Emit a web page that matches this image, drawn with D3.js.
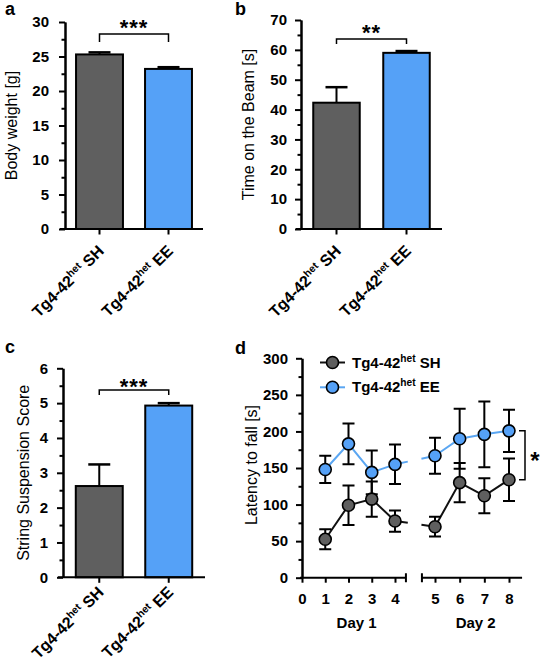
<!DOCTYPE html>
<html><head><meta charset="utf-8">
<script src="https://cdn.jsdelivr.net/npm/d3@7"></script>
<style>body{margin:0;background:#fff}svg{display:block}text{font-family:"Liberation Sans",Arial,sans-serif}</style>
</head><body>
<svg id="chart" width="544" height="665"></svg>
<script>
// ---------- DATA ----------
const groupBase = "Tg4-42", groupSup = "het";
const groups = ["SH", "EE"];
const bodyWeight = [25.3, 23.2];
const bodyWeightSem = [0.3, 0.25];
const bodyTicks = [0, 5, 10, 15, 20, 25, 30];
const beamTime = [42.3, 59.0];
const beamTimeSem = [5.2, 0.6];
const beamTicks = [0, 10, 20, 30, 40, 50, 60, 70];
const stringScore = [2.62, 4.93];
const stringScoreSem = [0.62, 0.07];
const stringTicks = [0, 1, 2, 3, 4, 5, 6];
const trialsDay1 = [1, 2, 3, 4];
const trialsDay2 = [5, 6, 7, 8];
const xTicksDay1 = [0, 1, 2, 3, 4];
const latencySH = [52.5, 99, 107.5, 77.5, 69.7, 130, 112, 134];
const latencySHSem = [13.7, 27, 24, 14.5, 13.5, 27, 24, 29];
const latencyEE = [148, 183, 144, 155, 166.7, 190, 196, 200.8];
const latencyEESem = [18.6, 28, 30, 27, 24.5, 41, 45, 29];
const latencyTicks = [0, 50, 100, 150, 200, 250, 300];
const dayLabels = ["Day 1", "Day 2"];

const colorSH = "#5f5f5f", colorEE = "#55a1f7", lineEE = "#5aa6f2";
const FONT = '"Liberation Sans", Arial, sans-serif';
const fmt = d3.format("d");
const svg = d3.select("#chart");

function groupLabel(text, cat, supSize) {
  text.append("tspan").text(groupBase);
  text.append("tspan").attr("font-size", supSize).attr("dy", -6).text(groupSup);
  text.append("tspan").attr("dy", 6).text("\u00A0" + cat);
}

function styleAxis(g) {
  g.selectAll("path,line").attr("stroke", "#000").attr("stroke-width", 2);
  g.selectAll("text").attr("font-family", FONT).attr("font-size", 15).attr("font-weight", "bold").attr("fill", "#000");
}

function barPanel(o) {
  const g = svg.append("g");
  const y = d3.scaleLinear().domain([o.ticks[0], o.ticks[o.ticks.length - 1]]).range(o.yRange);
  const x = d3.scaleBand().domain(groups).range([o.axisX, o.axisEnd]).paddingInner(o.pi).paddingOuter(o.po);
  const y0 = y(0);
  const cx = d => x(d) + x.bandwidth() / 2;
  g.selectAll("rect.bar").data(groups).join("rect")
    .attr("x", d => x(d)).attr("width", x.bandwidth())
    .attr("y", (d, i) => y(o.values[i])).attr("height", (d, i) => y0 - y(o.values[i]))
    .attr("fill", (d, i) => [colorSH, colorEE][i]).attr("stroke", "#000").attr("stroke-width", 2);
  g.selectAll("line.err").data(groups).join("line")
    .attr("x1", cx).attr("x2", cx)
    .attr("y1", (d, i) => y(o.values[i])).attr("y2", (d, i) => y(o.values[i] + o.sem[i]))
    .attr("stroke", "#000").attr("stroke-width", 2);
  g.selectAll("line.cap").data(groups).join("line")
    .attr("x1", d => cx(d) - 11).attr("x2", d => cx(d) + 11)
    .attr("y1", (d, i) => y(o.values[i] + o.sem[i])).attr("y2", (d, i) => y(o.values[i] + o.sem[i]))
    .attr("stroke", "#000").attr("stroke-width", 2.5);
  // y axis
  const minor = d3.range(o.ticks[0], o.ticks[o.ticks.length - 1], o.minorStep).filter(v => !o.ticks.includes(v));
  g.append("g").attr("transform", `translate(${o.axisX},0)`)
    .call(d3.axisLeft(y).tickValues(minor).tickSize(3.5).tickFormat("").tickSizeOuter(0)).call(styleAxis);
  g.append("g").attr("transform", `translate(${o.axisX},0)`)
    .call(d3.axisLeft(y).tickValues(o.ticks).tickFormat(fmt).tickSize(6).tickPadding(o.tickPad).tickSizeOuter(0)).call(styleAxis);
  // x axis
  g.append("line").attr("x1", o.axisX - 5).attr("x2", o.axisEnd).attr("y1", y0).attr("y2", y0)
    .attr("stroke", "#000").attr("stroke-width", 2);
  g.selectAll("line.xt").data(groups).join("line")
    .attr("x1", cx).attr("x2", cx).attr("y1", y0).attr("y2", y0 + 5.5)
    .attr("stroke", "#000").attr("stroke-width", 2);
  g.selectAll("text.xl").data(groups).join("text")
    .attr("transform", d => `translate(${cx(d) + 5.5},${y0 + o.labelDY}) rotate(-45)`)
    .attr("text-anchor", "end").attr("font-size", 16).attr("font-weight", "bold")
    .each(function (d) { groupLabel(d3.select(this), d, "0.65em"); });
  // bracket
  const bx1 = cx(groups[0]), bx2 = cx(groups[1]);
  g.append("path").attr("d", `M${bx1},${o.bracketY + o.leg}V${o.bracketY}H${bx2}V${o.bracketY + o.leg}`)
    .attr("fill", "none").attr("stroke", "#000").attr("stroke-width", 1.5);
  g.append("text").attr("x", (bx1 + bx2) / 2).attr("y", o.starY).attr("text-anchor", "middle")
    .attr("font-size", 22).attr("font-weight", "bold").attr("letter-spacing", 1).text(o.stars);
  // title
  const ym = (o.yRange[0] + o.yRange[1]) / 2;
  g.append("text").attr("transform", `translate(${o.titleX},${ym}) rotate(-90)`)
    .attr("text-anchor", "middle").attr("font-size", 16).text(o.title);
  g.append("text").attr("x", o.letter[1]).attr("y", o.letter[2]).attr("font-size", 18)
    .attr("font-weight", "bold").text(o.letter[0]);
}

barPanel({ ticks: bodyTicks, minorStep: 2.5, yRange: [229, 22], axisX: 65, axisEnd: 203, pi: 0.32, po: 0.16,
  values: bodyWeight, sem: bodyWeightSem, tickPad: 10, labelDY: 23, bracketY: 34, leg: 8, stars: "***", starY: 35,
  title: "Body weight [g]", titleX: 17, letter: ["a", 5, 15] });
barPanel({ ticks: beamTicks, minorStep: 5, yRange: [229, 20], axisX: 301, axisEnd: 442, pi: 0.336, po: 0.175,
  values: beamTime, sem: beamTimeSem, tickPad: 8, labelDY: 23, bracketY: 39, leg: 5, stars: "**", starY: 40,
  title: "Time on the Beam [s]", titleX: 254, letter: ["b", 235, 15] });
barPanel({ ticks: stringTicks, minorStep: 0.5, yRange: [577.3, 368.3], axisX: 63, axisEnd: 205, pi: 0.324, po: 0.184,
  values: stringScore, sem: stringScoreSem, tickPad: 9, labelDY: 16, bracketY: 390, leg: 5, stars: "***", starY: 394,
  title: "String Suspension Score", titleX: 29, letter: ["c", 5, 353] });

// ---------- Panel d ----------
(function () {
  const g = svg.append("g");
  const yD = d3.scaleLinear().domain([0, 300]).range([577.7, 358.3]);
  const xD1 = d3.scaleLinear().domain([0, 4]).range([302, 395]);
  const xD2 = d3.scaleLinear().domain([5, 8]).range([435, 509]);
  const xD = t => (t <= 4 ? xD1(t) : xD2(t));
  const y0 = yD(0);

  // y axis
  const minor = d3.range(25, 300, 50);
  g.append("g").attr("transform", "translate(302,0)")
    .call(d3.axisLeft(yD).tickValues(minor).tickSize(3.5).tickFormat("").tickSizeOuter(0)).call(styleAxis);
  g.append("g").attr("transform", "translate(302,0)")
    .call(d3.axisLeft(yD).tickValues(latencyTicks).tickFormat(fmt).tickSize(6).tickPadding(8).tickSizeOuter(0)).call(styleAxis);

  // x axis (broken)
  const ax1 = g.append("g").attr("transform", `translate(0,${y0})`)
    .call(d3.axisBottom(xD1).tickValues(xTicksDay1).tickFormat(fmt).tickSize(5).tickPadding(10.5)).call(styleAxis);
  ax1.select(".domain").remove();
  const ax2 = g.append("g").attr("transform", `translate(0,${y0})`)
    .call(d3.axisBottom(xD2).tickValues(trialsDay2).tickFormat(fmt).tickSize(5).tickPadding(10.5)).call(styleAxis);
  ax2.select(".domain").remove();
  const e1 = xD1(4.47), s2 = xD2(4.47), e2 = xD2(8.53);
  g.append("path").attr("d", `M300,${y0}H${e1}M${e1},${y0 - 4.5}V${y0 + 4.5}M${s2},${y0 - 4.5}V${y0 + 4.5}M${s2},${y0}H${e2}`)
    .attr("fill", "none").attr("stroke", "#000").attr("stroke-width", 2);

  // day labels
  g.selectAll("text.day").data(dayLabels).join("text")
    .attr("x", (d, i) => i === 0 ? xD1(2.35) : xD2(6.65)).attr("y", 628)
    .attr("text-anchor", "middle").attr("font-size", 15).attr("font-weight", "bold").text(d => d);

  // title & letter
  g.append("text").attr("transform", `translate(257,${(577.7 + 358.3) / 2 - 3}) rotate(-90)`)
    .attr("text-anchor", "middle").attr("font-size", 16).text("Latency to fall [s]");
  g.append("text").attr("x", 235).attr("y", 354).attr("font-size", 18).attr("font-weight", "bold").text("d");

  const series = [
    { name: "SH", vals: latencySH, sem: latencySHSem, fill: colorSH, line: "#111" },
    { name: "EE", vals: latencyEE, sem: latencyEESem, fill: colorEE, line: lineEE }
  ];
  const allTrials = trialsDay1.concat(trialsDay2);
  const line = d3.line().x(d => xD(d.t)).y(d => yD(d.v));
  const gs = xD1(4.55), ge = xD2(4.45);
  series.forEach(s => {
    const pts = allTrials.map((t, i) => ({ t, v: s.vals[i] }));
    g.append("path").attr("d", line(pts.slice(0, 4))).attr("fill", "none").attr("stroke", s.line).attr("stroke-width", 2);
    g.append("path").attr("d", line(pts.slice(4))).attr("fill", "none").attr("stroke", s.line).attr("stroke-width", 2);
    const p4 = [xD(4), yD(s.vals[3])], p5 = [xD(5), yD(s.vals[4])];
    const yAt = xx => p4[1] + (p5[1] - p4[1]) * (xx - p4[0]) / (p5[0] - p4[0]);
    g.append("path").attr("d", `M${p4[0]},${p4[1]}L${gs},${yAt(gs)}M${ge},${yAt(ge)}L${p5[0]},${p5[1]}`)
      .attr("fill", "none").attr("stroke", s.line).attr("stroke-width", 2);
  });
  // error bars
  series.forEach(s => {
    const eg = g.append("g");
    allTrials.forEach((t, i) => {
      const x = xD(t), lo = yD(s.vals[i] - s.sem[i]), hi = yD(s.vals[i] + s.sem[i]);
      eg.append("path").attr("d", `M${x},${lo}V${hi}M${x - 6},${lo}H${x + 6}M${x - 6},${hi}H${x + 6}`)
        .attr("fill", "none").attr("stroke", "#000").attr("stroke-width", 2);
    });
  });
  // markers
  series.forEach(s => {
    g.selectAll(null).data(allTrials).join("circle")
      .attr("cx", d => xD(d)).attr("cy", (d, i) => yD(s.vals[i])).attr("r", 6)
      .attr("fill", s.fill).attr("stroke", "#000").attr("stroke-width", 1.6);
  });

  // significance bracket
  const by1 = yD(latencyEE[7]), by2 = yD(latencySH[7]);
  g.append("path").attr("d", `M519,${by1}H525V${by2}H519`).attr("fill", "none").attr("stroke", "#000").attr("stroke-width", 1.5);
  g.append("text").attr("x", 535).attr("y", (by1 + by2) / 2 + 14).attr("text-anchor", "middle")
    .attr("font-size", 24).attr("font-weight", "bold").text("*");

  // legend
  const legY = [362.5, 387.3];
  series.forEach((s, i) => {
    g.append("line").attr("x1", 320).attr("x2", 345).attr("y1", legY[i]).attr("y2", legY[i])
      .attr("stroke", s.line).attr("stroke-width", 2);
    g.append("circle").attr("cx", 332.5).attr("cy", legY[i]).attr("r", 6)
      .attr("fill", s.fill).attr("stroke", "#000").attr("stroke-width", 1.6);
    const t = g.append("text").attr("x", 352).attr("y", legY[i] + 5).attr("font-size", 15).attr("font-weight", "bold");
    groupLabel(t, s.name, "0.68em");
  });
})();
</script>
</body></html>
